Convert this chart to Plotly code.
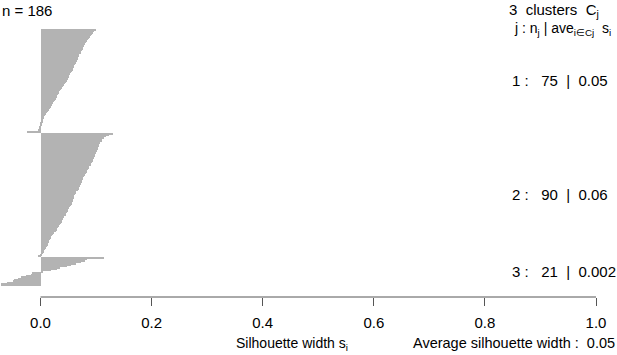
import plotly.graph_objects as go

# ---- data ----
cluster_sizes = [75, 90, 21]
cluster_avgs = ["0.05", "0.06", "0.002"]
overall_avg = "0.05"
n_total = 186

sil_c1 = [0.100, 0.097, 0.095, 0.093, 0.091, 0.089, 0.088, 0.086, 0.084, 0.082,
          0.080, 0.079, 0.078, 0.077, 0.076, 0.074, 0.073, 0.072, 0.070, 0.069,
          0.068, 0.067, 0.066, 0.065, 0.063, 0.062, 0.061, 0.060, 0.059, 0.058,
          0.056, 0.055, 0.053, 0.052, 0.051, 0.050, 0.049, 0.047, 0.045, 0.044,
          0.042, 0.040, 0.038, 0.037, 0.035, 0.034, 0.033, 0.031, 0.030, 0.029,
          0.028, 0.026, 0.025, 0.023, 0.021, 0.020, 0.018, 0.017, 0.015, 0.013,
          0.011, 0.009, 0.008, 0.007, 0.006, 0.005, 0.004, 0.004, 0.003, 0.001,
          0.0005, -0.001, -0.002, -0.004, -0.024]
sil_c2 = [0.130, 0.124, 0.118, 0.115, 0.111, 0.110, 0.108, 0.107, 0.106, 0.105,
          0.104, 0.103, 0.102, 0.101, 0.100, 0.099, 0.098, 0.097, 0.096, 0.095,
          0.094, 0.092, 0.091, 0.090, 0.088, 0.087, 0.085, 0.084, 0.083, 0.082,
          0.080, 0.079, 0.077, 0.076, 0.075, 0.074, 0.073, 0.072, 0.071, 0.070,
          0.069, 0.067, 0.064, 0.063, 0.062, 0.061, 0.060, 0.060, 0.059, 0.058,
          0.057, 0.056, 0.055, 0.053, 0.052, 0.050, 0.049, 0.048, 0.046, 0.045,
          0.043, 0.042, 0.040, 0.039, 0.038, 0.036, 0.035, 0.033, 0.032, 0.030,
          0.029, 0.027, 0.025, 0.023, 0.021, 0.019, 0.018, 0.017, 0.016, 0.015,
          0.014, 0.013, 0.012, 0.010, 0.008, 0.007, 0.006, 0.004, 0.002, -0.004]
sil_c3 = [0.114, 0.083, 0.080, 0.072, 0.064, 0.055, 0.048, 0.035, 0.030, 0.018,
          0.004, -0.016, -0.018, -0.027, -0.036, -0.040, -0.048, -0.050, -0.060,
          -0.072, -0.072]

tick_vals = [0.0, 0.2, 0.4, 0.6, 0.8, 1.0]
tick_text = ["0.0", "0.2", "0.4", "0.6", "0.8", "1.0"]

# ---- layout geometry ----
W, H = 617, 355
L, R, T, B = 0, 0, 29, 58
PW, PH = W - L - R, H - T - B
GAP = 0.5
clusters = [sil_c1, sil_c2, sil_c3]
total_units = sum(len(c) for c in clusters) + GAP * (len(clusters) - 1)
px_per_unit = (286 - 29) / total_units
y_min = total_units - PH / px_per_unit
x0_px, x1_px = 40.5, 596.0
px_per_x = x1_px - x0_px
x_min = (L - x0_px) / px_per_x
x_max = (W - R - x0_px) / px_per_x


def px(xp):
    return (xp - L) / PW


def py(yp):
    return (T + PH - yp) / PH


ys, xs, mids = [], [], []
top = total_units
for c in clusters:
    start = top
    for i, v in enumerate(c):
        ys.append(top - 0.5 - i)
        xs.append(v)
    top -= len(c)
    mids.append((start + top) / 2)
    top -= GAP

fig = go.Figure(go.Bar(x=xs, y=ys, orientation="h", width=1.0,
                       marker=dict(color="#b3b3b3", line=dict(width=0)),
                       hoverinfo="x"))

FONT = "Liberation Sans, Arial, Helvetica, sans-serif"
FS = 15
ann = []
ann.append(dict(x=px(0), y=py(10), xref="paper", yref="paper", text=f"n = {n_total}",
                xanchor="left", yanchor="middle", showarrow=False))
ann.append(dict(x=px(507), y=py(11), xref="paper", yref="paper",
                text="3  clusters  C<sub>j</sub>", xanchor="left", yanchor="middle", showarrow=False))
ann.append(dict(x=px(512), y=py(29), xref="paper", yref="paper",
                text="j : n<sub>j</sub> | ave<sub>i∈Cj</sub>  s<sub>i</sub>",
                font=dict(size=14), xanchor="left", yanchor="middle", showarrow=False))
for j, (n, a, m) in enumerate(zip(cluster_sizes, cluster_avgs, mids), start=1):
    ann.append(dict(x=px(510), y=m, xref="paper", yref="y",
                    text=f"{j} :   {n}  |  {a}", xanchor="left", yanchor="middle", showarrow=False))
ann.append(dict(x=px(292), y=py(344), xref="paper", yref="paper",
                text="Silhouette width s<sub>i</sub>", font=dict(size=14),
                xanchor="center", yanchor="middle", showarrow=False))
ann.append(dict(x=px(617), y=py(343), xref="paper", yref="paper",
                text=f"Average silhouette width :  {overall_avg}", font=dict(size=14.5),
                xanchor="right", yanchor="middle", showarrow=False))

fig.update_layout(
    width=W, height=H, margin=dict(l=L, r=R, t=T, b=B, autoexpand=False),
    plot_bgcolor="white", paper_bgcolor="white",
    font=dict(family=FONT, size=FS, color="black"),
    showlegend=False, bargap=0,
    annotations=ann,
    shapes=[dict(type="line", xref="x", yref="paper", x0=0, x1=1, y0=0, y1=0,
                 line=dict(color="#555555", width=1))],
    xaxis=dict(range=[x_min, x_max], tickvals=tick_vals, ticktext=tick_text,
               ticks="outside", ticklen=8, tickcolor="#555555", tickwidth=1,
               showgrid=False, zeroline=False, showline=False, automargin=False,
               ticklabelstandoff=4, tickfont=dict(size=FS, color="black")),
    yaxis=dict(range=[y_min, total_units], visible=False, showgrid=False, zeroline=False),
)

fig.write_html("out.html", config={"displayModeBar": False},
               post_script="document.body.style.margin='0';document.body.style.padding='0';"
                           "document.documentElement.style.overflow='hidden';")
